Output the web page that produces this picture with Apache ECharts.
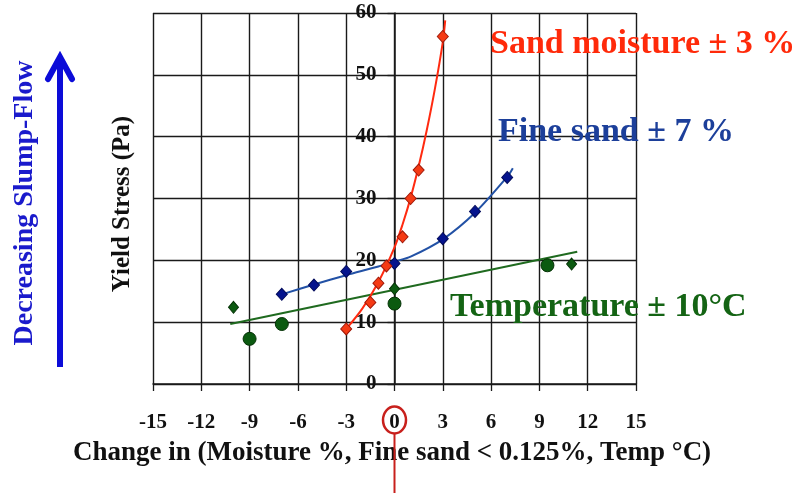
<!DOCTYPE html>
<html>
<head>
<meta charset="utf-8">
<script src="https://cdn.jsdelivr.net/npm/echarts@6/dist/echarts.min.js"></script>
<style>
  html, body { margin: 0; padding: 0; background: #ffffff; }
  #chart { width: 792px; height: 495px; }
</style>
</head>
<body>
<div id="chart"></div>
<script>
// Measured points: change in each parameter vs. yield stress (Pa)
const sandMoistureX = [-3, -1.5, -1, -0.5, 0.5, 1, 1.5, 3];
const sandMoistureY = [8.9, 13.2, 16.3, 19.1, 23.8, 30.0, 34.6, 56.2];

const fineSandX = [-7, -5, -3, 0, 3, 5, 7];
const fineSandY = [14.5, 16.0, 18.2, 19.5, 23.5, 27.9, 33.4];

const temperatureDiamondX = [-10, 0, 11];
const temperatureDiamondY = [12.4, 15.4, 19.4];
const temperatureCircleX = [-9, -7, 0, 9.5];
const temperatureCircleY = [7.3, 9.7, 13.0, 19.2];

// Fitted trend curves
const sandTrendX = [-3, -2, -1, 0, 0.5, 1, 1.5, 2, 2.5, 3, 3.15];
const sandTrendY = [8.9, 12.2, 16.5, 22.1, 25.8, 30.1, 35.2, 41.0, 47.6, 55.3, 58.8];
const fineTrendX = [-7, -5, -3, -1, 0, 1, 3, 5, 7, 7.35];
const fineTrendY = [14.5, 16.1, 17.6, 19.0, 19.8, 20.6, 23.4, 27.7, 33.5, 34.9];
const tempTrendX = [-10.2, 11.35];
const tempTrendY = [9.7, 21.4];

const xTicks = [-15, -12, -9, -6, -3, 0, 3, 6, 9, 12, 15];
const yTicks = [0, 10, 20, 30, 40, 50, 60];

const SERIF = '"Liberation Serif", "Times New Roman", serif';
const zip = (xs, ys) => xs.map((x, i) => [x, ys[i]]);
const GRID = { left: 153, right: 156, top: 13, bottom: 111 };

const chart = echarts.init(document.getElementById('chart'), null, { renderer: 'canvas' });

const option = {
  backgroundColor: '#ffffff',
  animation: false,
  grid: Object.assign({ containLabel: false }, GRID),
  xAxis: {
    type: 'value',
    min: xTicks[0], max: xTicks[xTicks.length - 1], interval: 3,
    axisLine: { onZero: false, lineStyle: { color: '#1a1a1a', width: 1.5 } },
    axisTick: { show: true, length: 7, lineStyle: { color: '#1a1a1a', width: 1.3 } },
    axisLabel: {
      margin: 28, color: '#111', fontFamily: SERIF, fontWeight: 'bold', fontSize: 21,
      formatter: v => xTicks.includes(v) ? String(v) : ''
    },
    splitLine: { show: true, lineStyle: { color: '#1a1a1a', width: 1.4 } }
  },
  yAxis: {
    type: 'value', position: 'left',
    min: yTicks[0], max: yTicks[yTicks.length - 1], interval: 10,
    axisLine: { show: true, onZero: false, lineStyle: { color: '#1a1a1a', width: 1.5 } },
    axisTick: { show: true, length: 7, lineStyle: { color: '#1a1a1a', width: 1.3 } },
    axisLabel: {
      margin: 18, color: '#111', fontFamily: SERIF, fontWeight: 'bold', fontSize: 21,
      formatter: v => yTicks.includes(v) ? String(v) : ''
    },
    splitLine: { show: true, lineStyle: { color: '#1a1a1a', width: 1.4 } }
  },
  series: [
    {
      name: 'Temperature trend', type: 'line', data: zip(tempTrendX, tempTrendY),
      showSymbol: false, lineStyle: { color: '#1f6a1f', width: 2 }, z: 2
    },
    {
      name: 'Fine sand trend', type: 'line', data: zip(fineTrendX, fineTrendY),
      smooth: 0.3, showSymbol: false,
      lineStyle: { color: '#2251a5', width: 2 }, z: 2
    },
    {
      name: 'Sand moisture trend', type: 'line', data: zip(sandTrendX, sandTrendY),
      smooth: 0.3, showSymbol: false,
      lineStyle: { color: '#ff2a10', width: 2 }, z: 3
    },
    {
      name: 'Temperature (circle)', type: 'scatter', data: zip(temperatureCircleX, temperatureCircleY),
      symbol: 'circle', symbolSize: 13,
      itemStyle: { color: '#0b5a10', borderColor: '#053206', borderWidth: 1, opacity: 1 }, z: 4
    },
    {
      name: 'Temperature (diamond)', type: 'scatter', data: zip(temperatureDiamondX, temperatureDiamondY),
      symbol: 'diamond', symbolSize: [10, 12],
      itemStyle: { color: '#0b5a10', borderColor: '#053206', borderWidth: 1, opacity: 1 }, z: 4
    },
    {
      name: 'Fine sand', type: 'scatter', data: zip(fineSandX, fineSandY),
      symbol: 'diamond', symbolSize: [11, 12],
      itemStyle: { color: '#05148e', borderColor: '#020a5a', borderWidth: 1, opacity: 1 }, z: 5
    },
    {
      name: 'Sand moisture', type: 'scatter', data: zip(sandMoistureX, sandMoistureY),
      symbol: 'diamond', symbolSize: [11, 12],
      itemStyle: { color: '#f53a14', borderColor: '#a01808', borderWidth: 1, opacity: 1 }, z: 6
    }
  ]
};

chart.setOption(option);

// The stress axis crosses the change axis at zero
const zeroPx = chart.convertToPixel({ xAxisIndex: 0, yAxisIndex: 0 }, [0, 0]);
chart.setOption({ yAxis: { offset: -(zeroPx[0] - GRID.left) } });

// Annotations: series labels, axis titles, slump-flow arrow and the zero marker
chart.setOption({
  graphic: [
    {
      type: 'text', x: 490, y: 44,
      style: { text: 'Sand moisture \u00b1 3 %', fill: '#ff2a0a', font: 'bold 34px ' + SERIF, verticalAlign: 'middle' }
    },
    {
      type: 'text', x: 498, y: 132,
      style: { text: 'Fine sand \u00b1 7 %', fill: '#1c3f9a', font: 'bold 34px ' + SERIF, verticalAlign: 'middle' }
    },
    {
      type: 'text', x: 450, y: 307,
      style: { text: 'Temperature \u00b1 10\u00b0C', fill: '#146414', font: 'bold 34px ' + SERIF, verticalAlign: 'middle' }
    },
    {
      type: 'text', x: 123, y: 204, rotation: Math.PI / 2,
      style: { text: 'Yield Stress (Pa)', fill: '#111', font: 'bold 25px ' + SERIF, align: 'center', verticalAlign: 'middle' }
    },
    {
      type: 'text', x: 25, y: 203, rotation: Math.PI / 2,
      style: { text: 'Decreasing Slump-Flow', fill: '#1a1acc', font: 'bold 28px ' + SERIF, align: 'center', verticalAlign: 'middle' }
    },
    {
      type: 'line', shape: { x1: 60, y1: 58, x2: 60, y2: 367 },
      style: { stroke: '#0c0cd8', lineWidth: 6 }
    },
    {
      type: 'polyline', shape: { points: [[48, 79], [60, 57], [72, 79]] },
      style: { stroke: '#0c0cd8', lineWidth: 6, fill: null, lineJoin: 'miter', lineCap: 'round' }
    },
    {
      type: 'text', x: 392, y: 453,
      style: { text: 'Change in (Moisture %, Fine sand < 0.125%, Temp \u00b0C)', fill: '#111', font: 'bold 27px ' + SERIF, align: 'center', verticalAlign: 'middle' }
    },
    {
      type: 'ellipse', shape: { cx: zeroPx[0], cy: 420, rx: 11.5, ry: 13.5 },
      style: { stroke: '#c8201c', lineWidth: 2.5, fill: null }
    },
    {
      type: 'line', shape: { x1: zeroPx[0], y1: 433.5, x2: zeroPx[0], y2: 493 },
      style: { stroke: '#c8201c', lineWidth: 2 }
    }
  ]
});
</script>
</body>
</html>
